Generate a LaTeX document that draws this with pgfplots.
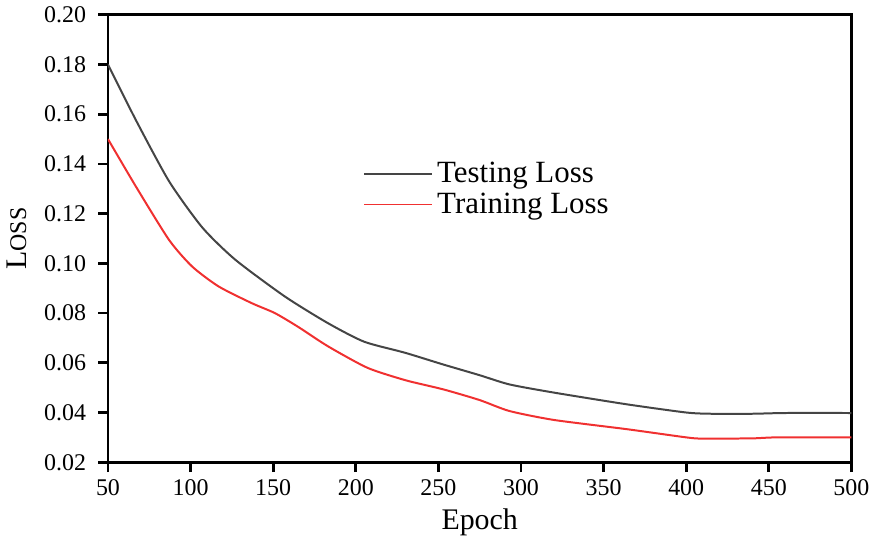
\documentclass[border=0pt]{standalone}
\usepackage{fontspec}
\setmainfont{Liberation Serif}
\usepackage{pgfplots}
\pgfplotsset{compat=1.18}
\definecolor{testc}{HTML}{454545}
\definecolor{trainc}{HTML}{F03030}
\begin{document}
\begin{tikzpicture}
\begin{axis}[
  scale only axis,
  width=373pt, height=224.5pt,
  xmin=50, xmax=500, ymin=0.02, ymax=0.20,
  xtick={50,100,...,500},
  ytick={0.02,0.04,...,0.2},
  yticklabel style={xshift=-2.5pt, /pgf/number format/.cd,fixed,fixed zerofill,precision=2},
  /pgf/number format/assume math mode=true,
  tick align=outside,
  tick pos=left,
  major tick length=5pt,
  axis line style={line width=1.4pt},
  every tick/.style={black,line width=1.4pt},
  ticklabel style={font=\fontsize{12}{14}\selectfont},
  xlabel={Epoch},
  ylabel={L{\fontsize{12}{14}\selectfont OSS}},
  xlabel style={font=\fontsize{15}{17}\selectfont},
  ylabel style={font=\fontsize{15}{17}\selectfont, yshift=2pt},
  legend style={draw=none, fill=none, at={(0.335,0.61)}, anchor=west,
    font=\fontsize{15.5}{17}\selectfont, row sep=-0.5pt},
  legend cell align=left,
  legend image code/.code={\draw[#1, line width=0.9pt] (0cm,0cm) -- (1.2cm,0cm);},
]
\addplot[testc, line width=1pt, smooth, tension=0.4] coordinates {
(50,0.180) (67,0.1575) (87,0.1330) (107,0.1145) (127,0.1015) (157,0.0867)
(183,0.0760) (205,0.0685) (230,0.0640) (253,0.0593) (275,0.0550) (293,0.0513)
(320,0.0480) (364,0.0433) (400,0.0400) (415,0.0395) (440,0.0395) (460,0.0398)
(500,0.0398)};
\addlegendentry{Testing Loss}
\addplot[trainc, line width=1pt, smooth, tension=0.4] coordinates {
(50,0.150) (67,0.1308) (87,0.1094) (101,0.0987) (117,0.0907) (137,0.0840)
(151,0.0800) (165,0.0745) (183,0.0667) (207,0.0580) (230,0.0530) (253,0.0493)
(275,0.0450) (293,0.0406) (320,0.0370) (364,0.0333) (400,0.0300) (410,0.0295)
(440,0.0296) (455,0.0300) (500,0.0300)};
\addlegendentry{Training Loss}
\end{axis}
\end{tikzpicture}
\end{document}
